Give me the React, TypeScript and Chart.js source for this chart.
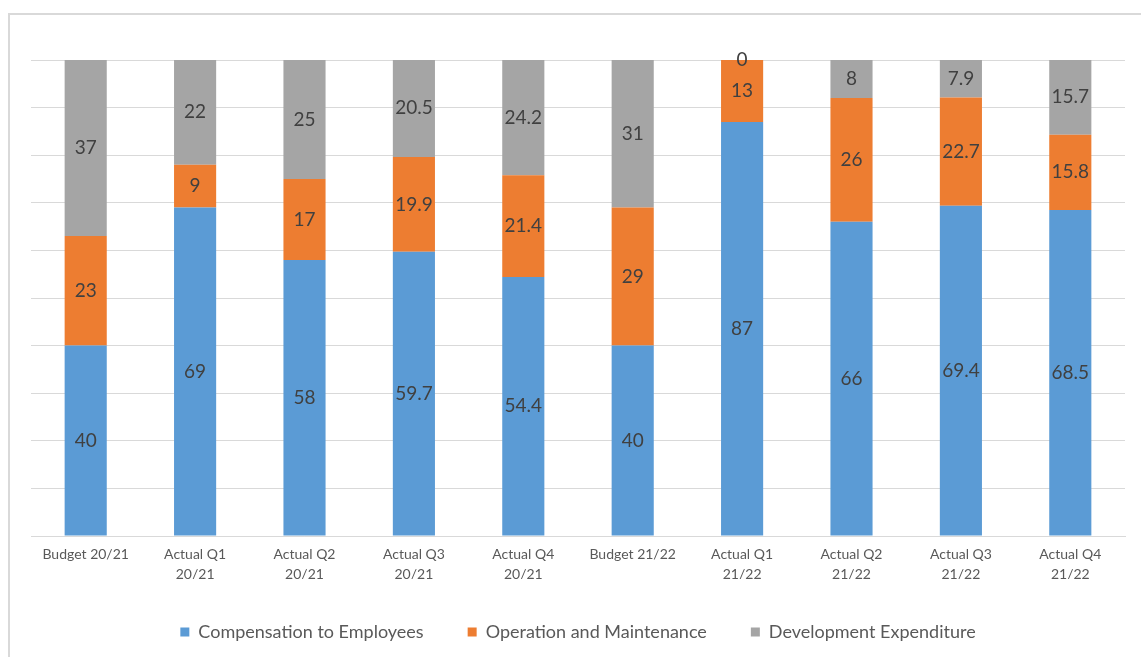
import React, { useEffect, useRef } from "react";
import { Chart, registerables } from "chart.js";

Chart.register(...registerables);

const categories: (string | string[])[] = [
  "Budget 20/21",
  ["Actual Q1", "20/21"],
  ["Actual Q2", "20/21"],
  ["Actual Q3", "20/21"],
  ["Actual Q4", "20/21"],
  "Budget 21/22",
  ["Actual Q1", "21/22"],
  ["Actual Q2", "21/22"],
  ["Actual Q3", "21/22"],
  ["Actual Q4", "21/22"],
];

const compensation = [40, 69, 58, 59.7, 54.4, 40, 87, 66, 69.4, 68.5];
const operation = [23, 9, 17, 19.9, 21.4, 29, 13, 26, 22.7, 15.8];
const development = [37, 22, 25, 20.5, 24.2, 31, 0, 8, 7.9, 15.7];

const seriesNames = [
  "Compensation to Employees",
  "Operation and Maintenance",
  "Development Expenditure",
];

const FONT = "Lato, 'Open Sans', sans-serif";

const valueLabels = {
  id: "valueLabels",
  afterDatasetsDraw(chart: any) {
    const ctx = chart.ctx;
    ctx.save();
    ctx.font = `19px ${FONT}`;
    ctx.fillStyle = "#404040";
    ctx.textAlign = "center";
    ctx.textBaseline = "middle";
    chart.data.datasets.forEach((ds: any, di: number) => {
      const meta = chart.getDatasetMeta(di);
      meta.data.forEach((el: any, i: number) => {
        const v = ds.data[i];
        const y = (el.y + el.base) / 2;
        ctx.fillText(String(v), el.x, y);
      });
    });
    ctx.restore();
  },
};

export default function App() {
  const canvasRef = useRef<HTMLCanvasElement | null>(null);

  useEffect(() => {
    if (!canvasRef.current) return;
    const chart = new Chart(canvasRef.current, {
      type: "bar",
      data: {
        labels: categories as any,
        datasets: [
          { label: seriesNames[0], data: compensation, backgroundColor: "#5b9bd5" },
          { label: seriesNames[1], data: operation, backgroundColor: "#ed7d31" },
          { label: seriesNames[2], data: development, backgroundColor: "#a5a5a5" },
        ],
      },
      options: {
        animation: false,
        responsive: true,
        maintainAspectRatio: false,
        datasets: {
          bar: { categoryPercentage: 1, barPercentage: 0.385 },
        },
        layout: { padding: { left: 21, right: 16, top: 45, bottom: 6 } },
        scales: {
          x: {
            stacked: true,
            grid: { display: false, drawTicks: false },
            border: { display: true, color: "#d9d9d9" },
            ticks: {
              padding: 9,
              color: "#595959",
              font: { family: FONT, size: 14, lineHeight: 1.4 },
              maxRotation: 0,
              autoSkip: false,
            },
            afterFit(scale: any) {
              scale.height = 43;
            },
          },
          y: {
            stacked: true,
            min: 0,
            max: 100,
            ticks: { display: false, stepSize: 10 },
            grid: { color: "#d9d9d9", drawTicks: false },
            border: { display: false },
          },
        },
        plugins: {
          legend: {
            position: "bottom",
            labels: {
              boxWidth: 9,
              boxHeight: 9,
              padding: 44,
              color: "#595959",
              font: { family: FONT, size: 18 },
            },
          },
          tooltip: { enabled: false },
        },
      },
      plugins: [valueLabels],
    });
    return () => chart.destroy();
  }, []);

  return (
    <div
      style={{
        position: "fixed",
        left: 8,
        top: 13,
        right: -20,
        bottom: -20,
        borderLeft: "2px solid #d9d9d9",
        borderTop: "2px solid #d9d9d9",
        background: "#fff",
      }}
    >
      <div style={{ position: "absolute", left: 0, top: 0, width: 1131, height: 642 }}>
        <canvas ref={canvasRef} />
      </div>
    </div>
  );
}
